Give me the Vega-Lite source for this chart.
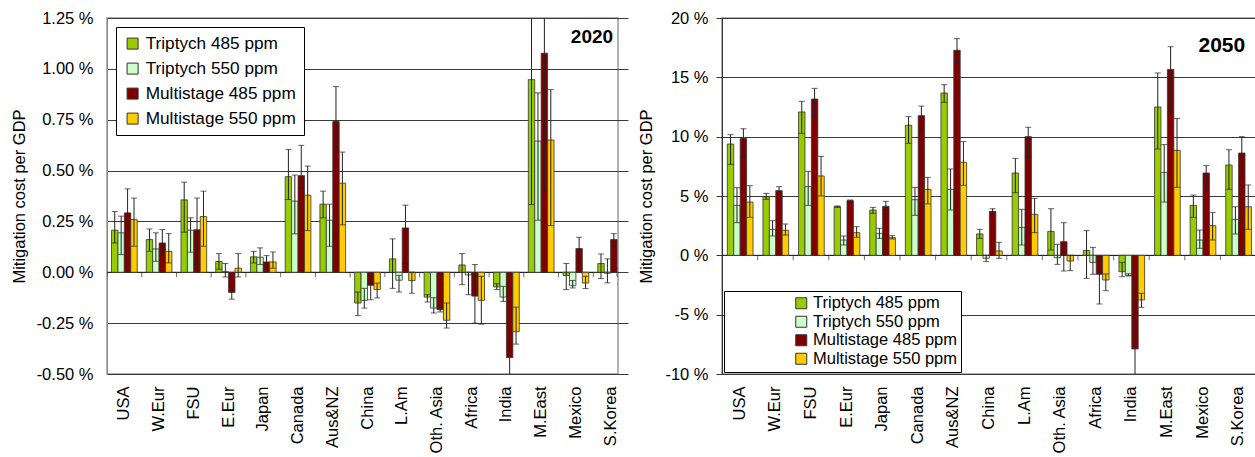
{
"$schema": "https://vega.github.io/schema/vega-lite/v6.json",
"padding": {"left": 10, "top": 9, "right": 0, "bottom": 0},
"spacing": 9,
"config": {
  "font": "Liberation Sans",
  "view": {"stroke": "#999", "strokeWidth": 1.5},
  "axis": {"labelColor": "#000", "titleColor": "#000", "labelFontSize": 16.5, "titleFontSize": 16.5, "titleFontWeight": "normal", "gridColor": "#3a3a3a", "gridWidth": 1}
},
"resolve": {"scale": {"color": "independent"}, "legend": {"color": "independent"}},
"datasets": {
  "regions": [{"region":"USA"},{"region":"W.Eur"},{"region":"FSU"},{"region":"E.Eur"},{"region":"Japan"},{"region":"Canada"},{"region":"Aus&NZ"},{"region":"China"},{"region":"L.Am"},{"region":"Oth. Asia"},{"region":"Africa"},{"region":"India"},{"region":"M.East"},{"region":"Mexico"},{"region":"S.Korea"}],
  "d2020": [
    {"region":"USA","s":"Triptych 485 ppm","value":0.207,"low":0.144,"high":0.299},
    {"region":"USA","s":"Triptych 550 ppm","value":0.194,"low":0.087,"high":0.276},
    {"region":"USA","s":"Multistage 485 ppm","value":0.292,"low":0.218,"high":0.41},
    {"region":"USA","s":"Multistage 550 ppm","value":0.259,"low":0.128,"high":0.365},
    {"region":"W.Eur","s":"Triptych 485 ppm","value":0.161,"low":0.103,"high":0.213},
    {"region":"W.Eur","s":"Triptych 550 ppm","value":0.115,"low":0.054,"high":0.194},
    {"region":"W.Eur","s":"Multistage 485 ppm","value":0.144,"low":0.082,"high":0.21},
    {"region":"W.Eur","s":"Multistage 550 ppm","value":0.103,"low":0.046,"high":0.19},
    {"region":"FSU","s":"Triptych 485 ppm","value":0.356,"low":0.197,"high":0.443},
    {"region":"FSU","s":"Triptych 550 ppm","value":0.207,"low":0.099,"high":0.268},
    {"region":"FSU","s":"Multistage 485 ppm","value":0.209,"low":0.038,"high":0.365},
    {"region":"FSU","s":"Multistage 550 ppm","value":0.274,"low":0.128,"high":0.399},
    {"region":"E.Eur","s":"Triptych 485 ppm","value":0.053,"low":0.015,"high":0.092},
    {"region":"E.Eur","s":"Triptych 550 ppm","value":0.003,"low":-0.023,"high":0.043},
    {"region":"E.Eur","s":"Multistage 485 ppm","value":-0.099,"low":-0.132,"high":-0.065},
    {"region":"E.Eur","s":"Multistage 550 ppm","value":0.02,"low":-0.023,"high":0.092},
    {"region":"Japan","s":"Triptych 485 ppm","value":0.076,"low":0.046,"high":0.103},
    {"region":"Japan","s":"Triptych 550 ppm","value":0.074,"low":0.038,"high":0.12},
    {"region":"Japan","s":"Multistage 485 ppm","value":0.051,"low":0.013,"high":0.082},
    {"region":"Japan","s":"Multistage 550 ppm","value":0.051,"low":0.02,"high":0.1},
    {"region":"Canada","s":"Triptych 485 ppm","value":0.47,"low":0.358,"high":0.604},
    {"region":"Canada","s":"Triptych 550 ppm","value":0.35,"low":0.189,"high":0.478},
    {"region":"Canada","s":"Multistage 485 ppm","value":0.475,"low":0.415,"high":0.624},
    {"region":"Canada","s":"Multistage 550 ppm","value":0.379,"low":0.205,"high":0.522},
    {"region":"Aus&NZ","s":"Triptych 485 ppm","value":0.335,"low":0.268,"high":0.399},
    {"region":"Aus&NZ","s":"Triptych 550 ppm","value":0.256,"low":0.128,"high":0.335},
    {"region":"Aus&NZ","s":"Multistage 485 ppm","value":0.741,"low":0.609,"high":0.913},
    {"region":"Aus&NZ","s":"Multistage 550 ppm","value":0.438,"low":0.233,"high":0.591},
    {"region":"China","s":"Triptych 485 ppm","value":-0.151,"low":-0.213,"high":-0.097},
    {"region":"China","s":"Triptych 550 ppm","value":-0.138,"low":-0.176,"high":-0.079},
    {"region":"China","s":"Multistage 485 ppm","value":-0.064,"low":-0.135,"high":-0.016},
    {"region":"China","s":"Multistage 550 ppm","value":-0.085,"low":-0.126,"high":-0.053},
    {"region":"L.Am","s":"Triptych 485 ppm","value":0.066,"low":-0.079,"high":0.164},
    {"region":"L.Am","s":"Triptych 550 ppm","value":-0.039,"low":-0.097,"high":-0.015},
    {"region":"L.Am","s":"Multistage 485 ppm","value":0.218,"low":0.043,"high":0.33},
    {"region":"L.Am","s":"Multistage 550 ppm","value":-0.041,"low":-0.103,"high":0.0},
    {"region":"Oth. Asia","s":"Triptych 485 ppm","value":-0.122,"low":-0.146,"high":-0.11},
    {"region":"Oth. Asia","s":"Triptych 550 ppm","value":-0.176,"low":-0.2,"high":-0.125},
    {"region":"Oth. Asia","s":"Multistage 485 ppm","value":-0.184,"low":-0.195,"high":-0.167},
    {"region":"Oth. Asia","s":"Multistage 550 ppm","value":-0.236,"low":-0.274,"high":-0.151},
    {"region":"Africa","s":"Triptych 485 ppm","value":0.036,"low":-0.061,"high":0.092},
    {"region":"Africa","s":"Triptych 550 ppm","value":-0.013,"low":-0.11,"high":0.0},
    {"region":"Africa","s":"Multistage 485 ppm","value":-0.117,"low":-0.25,"high":0.038},
    {"region":"Africa","s":"Multistage 550 ppm","value":-0.138,"low":-0.255,"high":-0.02},
    {"region":"India","s":"Triptych 485 ppm","value":-0.072,"low":-0.085,"high":-0.056},
    {"region":"India","s":"Triptych 550 ppm","value":-0.122,"low":-0.143,"high":-0.069},
    {"region":"India","s":"Multistage 485 ppm","value":-0.419,"low":-0.56,"high":-0.348},
    {"region":"India","s":"Multistage 550 ppm","value":-0.292,"low":-0.353,"high":-0.171},
    {"region":"M.East","s":"Triptych 485 ppm","value":0.947,"low":0.333,"high":1.56},
    {"region":"M.East","s":"Triptych 550 ppm","value":0.645,"low":0.256,"high":0.882},
    {"region":"M.East","s":"Multistage 485 ppm","value":1.077,"low":0.396,"high":1.76},
    {"region":"M.East","s":"Multistage 550 ppm","value":0.65,"low":0.23,"high":0.898},
    {"region":"Mexico","s":"Triptych 485 ppm","value":-0.016,"low":-0.085,"high":0.043},
    {"region":"Mexico","s":"Triptych 550 ppm","value":-0.066,"low":-0.077,"high":-0.04},
    {"region":"Mexico","s":"Multistage 485 ppm","value":0.117,"low":0.026,"high":0.172},
    {"region":"Mexico","s":"Multistage 550 ppm","value":-0.053,"low":-0.08,"high":-0.02},
    {"region":"S.Korea","s":"Triptych 485 ppm","value":0.043,"low":-0.031,"high":0.09},
    {"region":"S.Korea","s":"Triptych 550 ppm","value":-0.005,"low":-0.052,"high":0.066},
    {"region":"S.Korea","s":"Multistage 485 ppm","value":0.161,"low":0.128,"high":0.19},
    {"region":"S.Korea","s":"Multistage 550 ppm","value":-0.02,"low":-0.06,"high":0.02}
  ],
  "d2050": [
    {"region":"USA","s":"Triptych 485 ppm","value":9.38,"low":7.67,"high":10.17},
    {"region":"USA","s":"Triptych 550 ppm","value":4.21,"low":2.75,"high":5.7},
    {"region":"USA","s":"Multistage 485 ppm","value":9.86,"low":8.31,"high":10.67},
    {"region":"USA","s":"Multistage 550 ppm","value":4.49,"low":3.2,"high":5.87},
    {"region":"W.Eur","s":"Triptych 485 ppm","value":4.94,"low":4.72,"high":5.22},
    {"region":"W.Eur","s":"Triptych 550 ppm","value":2.19,"low":1.63,"high":2.92},
    {"region":"W.Eur","s":"Multistage 485 ppm","value":5.45,"low":5.22,"high":5.79},
    {"region":"W.Eur","s":"Multistage 550 ppm","value":2.11,"low":1.71,"high":2.64},
    {"region":"FSU","s":"Triptych 485 ppm","value":12.08,"low":10.28,"high":12.98},
    {"region":"FSU","s":"Triptych 550 ppm","value":5.79,"low":4.21,"high":7.08},
    {"region":"FSU","s":"Multistage 485 ppm","value":13.17,"low":11.69,"high":14.07},
    {"region":"FSU","s":"Multistage 550 ppm","value":6.69,"low":5.0,"high":8.34},
    {"region":"E.Eur","s":"Triptych 485 ppm","value":4.1,"low":4.04,"high":4.16},
    {"region":"E.Eur","s":"Triptych 550 ppm","value":1.29,"low":0.87,"high":1.63},
    {"region":"E.Eur","s":"Multistage 485 ppm","value":4.61,"low":4.52,"high":4.66},
    {"region":"E.Eur","s":"Multistage 550 ppm","value":1.91,"low":1.52,"high":2.42},
    {"region":"Japan","s":"Triptych 485 ppm","value":3.82,"low":3.54,"high":4.04},
    {"region":"Japan","s":"Triptych 550 ppm","value":1.85,"low":1.43,"high":2.28},
    {"region":"Japan","s":"Multistage 485 ppm","value":4.13,"low":3.82,"high":4.55},
    {"region":"Japan","s":"Multistage 550 ppm","value":1.49,"low":1.38,"high":1.66},
    {"region":"Canada","s":"Triptych 485 ppm","value":10.96,"low":9.44,"high":11.69},
    {"region":"Canada","s":"Triptych 550 ppm","value":4.69,"low":3.37,"high":5.73},
    {"region":"Canada","s":"Multistage 485 ppm","value":11.77,"low":10.48,"high":12.58},
    {"region":"Canada","s":"Multistage 550 ppm","value":5.56,"low":4.33,"high":6.57},
    {"region":"Aus&NZ","s":"Triptych 485 ppm","value":13.68,"low":12.89,"high":14.38},
    {"region":"Aus&NZ","s":"Triptych 550 ppm","value":5.56,"low":3.82,"high":7.28},
    {"region":"Aus&NZ","s":"Multistage 485 ppm","value":17.28,"low":16.24,"high":18.26},
    {"region":"Aus&NZ","s":"Multistage 550 ppm","value":7.84,"low":5.9,"high":9.58},
    {"region":"China","s":"Triptych 485 ppm","value":1.8,"low":1.43,"high":2.19},
    {"region":"China","s":"Triptych 550 ppm","value":-0.25,"low":-0.53,"high":0.0},
    {"region":"China","s":"Multistage 485 ppm","value":3.71,"low":3.6,"high":3.93},
    {"region":"China","s":"Multistage 550 ppm","value":0.37,"low":-0.25,"high":1.1},
    {"region":"L.Am","s":"Triptych 485 ppm","value":6.94,"low":5.28,"high":8.17},
    {"region":"L.Am","s":"Triptych 550 ppm","value":2.36,"low":0.87,"high":3.88},
    {"region":"L.Am","s":"Multistage 485 ppm","value":10.0,"low":8.31,"high":10.79},
    {"region":"L.Am","s":"Multistage 550 ppm","value":3.46,"low":1.91,"high":4.8},
    {"region":"Oth. Asia","s":"Triptych 485 ppm","value":2.02,"low":0.45,"high":3.93},
    {"region":"Oth. Asia","s":"Triptych 550 ppm","value":-0.2,"low":-0.76,"high":0.93},
    {"region":"Oth. Asia","s":"Multistage 485 ppm","value":1.15,"low":-1.32,"high":2.75},
    {"region":"Oth. Asia","s":"Multistage 550 ppm","value":-0.48,"low":-1.29,"high":0.0},
    {"region":"Africa","s":"Triptych 485 ppm","value":0.42,"low":-1.94,"high":2.08},
    {"region":"Africa","s":"Triptych 550 ppm","value":-0.59,"low":-1.6,"high":0.67},
    {"region":"Africa","s":"Multistage 485 ppm","value":-1.6,"low":-4.1,"high":-0.1},
    {"region":"Africa","s":"Multistage 550 ppm","value":-2.08,"low":-2.98,"high":-1.57},
    {"region":"India","s":"Triptych 485 ppm","value":-1.38,"low":-1.8,"high":-0.59},
    {"region":"India","s":"Triptych 550 ppm","value":-1.69,"low":-1.74,"high":-1.55},
    {"region":"India","s":"Multistage 485 ppm","value":-7.89,"low":-13.8,"high":-2.02},
    {"region":"India","s":"Multistage 550 ppm","value":-3.76,"low":-4.38,"high":-3.2},
    {"region":"M.East","s":"Triptych 485 ppm","value":12.5,"low":8.96,"high":15.37},
    {"region":"M.East","s":"Triptych 550 ppm","value":6.99,"low":4.49,"high":9.33},
    {"region":"M.East","s":"Multistage 485 ppm","value":15.67,"low":12.05,"high":17.58},
    {"region":"M.East","s":"Multistage 550 ppm","value":8.85,"low":5.73,"high":11.54},
    {"region":"Mexico","s":"Triptych 485 ppm","value":4.21,"low":3.2,"high":5.08},
    {"region":"Mexico","s":"Triptych 550 ppm","value":1.29,"low":0.59,"high":2.13},
    {"region":"Mexico","s":"Multistage 485 ppm","value":6.94,"low":5.56,"high":7.56},
    {"region":"Mexico","s":"Multistage 550 ppm","value":2.5,"low":1.29,"high":3.62},
    {"region":"S.Korea","s":"Triptych 485 ppm","value":7.61,"low":5.56,"high":8.9},
    {"region":"S.Korea","s":"Triptych 550 ppm","value":3.03,"low":1.8,"high":4.1},
    {"region":"S.Korea","s":"Multistage 485 ppm","value":8.62,"low":6.4,"high":10.0},
    {"region":"S.Korea","s":"Multistage 550 ppm","value":4.1,"low":2.19,"high":5.93}
  ]
},
"hconcat": [
{
  "width": 511, "height": 356,
  "data": {"name": "d2020"},
  "layer": [
    {"data": {"values": [{"z": 0}]}, "mark": {"type": "rule", "color": "#222", "strokeWidth": 1},
     "encoding": {"y": {"field": "z", "type": "quantitative", "title": "Mitigation cost per GDP"}}},
    {"mark": {"type": "bar", "stroke": "#333", "strokeWidth": 0.8, "clip": true},
     "encoding": {
      "x": {"field": "region", "type": "nominal", "title": null, "sort": ["USA","W.Eur","FSU","E.Eur","Japan","Canada","Aus&NZ","China","L.Am","Oth. Asia","Africa","India","M.East","Mexico","S.Korea"],
            "scale": {"range": [0, 521], "paddingInner": 0.26, "paddingOuter": 0.13},
            "axis": {"labelAngle": -90, "ticks": false, "domain": false, "labelPadding": 12, "labelFontSize": 16.5}},
      "xOffset": {"field": "s", "type": "nominal", "sort": ["Triptych 485 ppm","Triptych 550 ppm","Multistage 485 ppm","Multistage 550 ppm"]},
      "y": {"field": "value", "type": "quantitative", "title": "Mitigation cost per GDP",
            "scale": {"domain": [-0.5, 1.25], "nice": false, "zero": false},
            "axis": {"values": [-0.5,-0.25,0,0.25,0.5,0.75,1,1.25], "ticks": false, "labelPadding": 14, "domainColor": "#888", "titlePadding": 9,
                     "labelExpr": "replace(format(datum.value, '.2f'), '\u2212', '-') + ' %'"}},
      "color": {"field": "s", "type": "nominal",
                "scale": {"domain": ["Triptych 485 ppm","Triptych 550 ppm","Multistage 485 ppm","Multistage 550 ppm"], "range": ["#99CC00","#CCFFCC","#800000","#FFCC00"]},
                "legend": {"title": null, "orient": "top-left", "offset": 9, "padding": 8, "strokeColor": "#000", "fillColor": "#fff",
                           "symbolType": "square", "symbolSize": 121, "symbolStrokeColor": "#333", "symbolStrokeWidth": 1,
                           "labelFontSize": 17.2, "labelColor": "#000", "labelOffset": 4.5, "rowPadding": 7}}
     }},
    {"mark": {"type": "rule", "color": "#222", "strokeWidth": 1, "clip": true},
     "encoding": {
      "x": {"field": "region", "type": "nominal", "title": null, "sort": ["USA","W.Eur","FSU","E.Eur","Japan","Canada","Aus&NZ","China","L.Am","Oth. Asia","Africa","India","M.East","Mexico","S.Korea"]},
      "xOffset": {"field": "s", "type": "nominal", "sort": ["Triptych 485 ppm","Triptych 550 ppm","Multistage 485 ppm","Multistage 550 ppm"]},
      "y": {"field": "low", "type": "quantitative", "title": "Mitigation cost per GDP"},
      "y2": {"field": "high"}
     }},
    {"mark": {"type": "tick", "color": "#222", "thickness": 1, "size": 6, "clip": true},
     "encoding": {
      "x": {"field": "region", "type": "nominal", "title": null, "sort": ["USA","W.Eur","FSU","E.Eur","Japan","Canada","Aus&NZ","China","L.Am","Oth. Asia","Africa","India","M.East","Mexico","S.Korea"]},
      "xOffset": {"field": "s", "type": "nominal", "sort": ["Triptych 485 ppm","Triptych 550 ppm","Multistage 485 ppm","Multistage 550 ppm"]},
      "y": {"field": "low", "type": "quantitative", "title": "Mitigation cost per GDP"}
     }},
    {"mark": {"type": "tick", "color": "#222", "thickness": 1, "size": 6, "clip": true},
     "encoding": {
      "x": {"field": "region", "type": "nominal", "title": null, "sort": ["USA","W.Eur","FSU","E.Eur","Japan","Canada","Aus&NZ","China","L.Am","Oth. Asia","Africa","India","M.East","Mexico","S.Korea"]},
      "xOffset": {"field": "s", "type": "nominal", "sort": ["Triptych 485 ppm","Triptych 550 ppm","Multistage 485 ppm","Multistage 550 ppm"]},
      "y": {"field": "high", "type": "quantitative", "title": "Mitigation cost per GDP"}
     }},
    {"data": {"name": "regions"},
     "mark": {"type": "tick", "orient": "vertical", "color": "#333", "thickness": 1, "size": 5, "yOffset": 2.5, "clip": true},
     "encoding": {
      "x": {"field": "region", "type": "nominal", "title": null, "bandPosition": -0.1757, "sort": ["USA","W.Eur","FSU","E.Eur","Japan","Canada","Aus&NZ","China","L.Am","Oth. Asia","Africa","India","M.East","Mexico","S.Korea"]},
      "y": {"datum": 0, "type": "quantitative", "title": "Mitigation cost per GDP"}
     }},
    {"data": {"values": [{"year": "2020"}]},
     "mark": {"type": "text", "align": "right", "baseline": "alphabetic", "fontSize": 19, "fontWeight": "bold", "color": "#000", "dx": 2.5},
     "encoding": {
      "x": {"datum": "S.Korea", "type": "nominal", "title": null},
      "y": {"datum": 1.127, "type": "quantitative", "title": "Mitigation cost per GDP"},
      "text": {"field": "year"}
     }}
  ]
},
{
  "width": 534, "height": 356,
  "data": {"name": "d2050"},
  "layer": [
    {"data": {"values": [{"z": 0}]}, "mark": {"type": "rule", "color": "#222", "strokeWidth": 1},
     "encoding": {"y": {"field": "z", "type": "quantitative", "title": "Mitigation cost per GDP"}}},
    {"mark": {"type": "bar", "stroke": "#333", "strokeWidth": 0.8, "clip": true},
     "encoding": {
      "x": {"field": "region", "type": "nominal", "title": null, "sort": ["USA","W.Eur","FSU","E.Eur","Japan","Canada","Aus&NZ","China","L.Am","Oth. Asia","Africa","India","M.East","Mexico","S.Korea"],
            "scale": {"paddingInner": 0.3, "paddingOuter": 0.15},
            "axis": {"labelAngle": -90, "ticks": false, "domain": false, "labelPadding": 12, "labelFontSize": 16.5}},
      "xOffset": {"field": "s", "type": "nominal", "sort": ["Triptych 485 ppm","Triptych 550 ppm","Multistage 485 ppm","Multistage 550 ppm"]},
      "y": {"field": "value", "type": "quantitative", "title": "Mitigation cost per GDP",
            "scale": {"domain": [-10, 20], "nice": false, "zero": false},
            "axis": {"values": [-10,-5,0,5,10,15,20], "tickSize": 6, "tickColor": "#333", "labelPadding": 8, "domainColor": "#333", "titlePadding": 10,
                     "labelExpr": "replace(format(datum.value, 'd'), '\u2212', '-') + ' %'"}},
      "color": {"field": "s", "type": "nominal",
                "scale": {"domain": ["Triptych 485 ppm","Triptych 550 ppm","Multistage 485 ppm","Multistage 550 ppm"], "range": ["#99CC00","#CCFFCC","#800000","#FFCC00"]},
                "legend": {"title": "\u00a0", "titleOrient": "left", "titlePadding": 65, "titleFontSize": 2,
                           "orient": "bottom-left", "offset": 2, "padding": 4, "strokeColor": "#000", "fillColor": "#fff",
                           "symbolType": "square", "symbolSize": 121, "symbolStrokeColor": "#333", "symbolStrokeWidth": 1,
                           "labelFontSize": 16.5, "labelColor": "#000", "labelOffset": 3.5, "rowPadding": 1.5,
                           "labelExpr": "datum.label + '\u00a0\u00a0\u00a0\u00a0\u00a0\u00a0\u00a0\u00a0\u00a0\u00a0\u00a0\u00a0\u00a0\u00a0\u00a0'"}}
     }},
    {"mark": {"type": "rule", "color": "#222", "strokeWidth": 1, "clip": true},
     "encoding": {
      "x": {"field": "region", "type": "nominal", "title": null, "sort": ["USA","W.Eur","FSU","E.Eur","Japan","Canada","Aus&NZ","China","L.Am","Oth. Asia","Africa","India","M.East","Mexico","S.Korea"]},
      "xOffset": {"field": "s", "type": "nominal", "sort": ["Triptych 485 ppm","Triptych 550 ppm","Multistage 485 ppm","Multistage 550 ppm"]},
      "y": {"field": "low", "type": "quantitative", "title": "Mitigation cost per GDP"},
      "y2": {"field": "high"}
     }},
    {"mark": {"type": "tick", "color": "#222", "thickness": 1, "size": 6, "clip": true},
     "encoding": {
      "x": {"field": "region", "type": "nominal", "title": null, "sort": ["USA","W.Eur","FSU","E.Eur","Japan","Canada","Aus&NZ","China","L.Am","Oth. Asia","Africa","India","M.East","Mexico","S.Korea"]},
      "xOffset": {"field": "s", "type": "nominal", "sort": ["Triptych 485 ppm","Triptych 550 ppm","Multistage 485 ppm","Multistage 550 ppm"]},
      "y": {"field": "low", "type": "quantitative", "title": "Mitigation cost per GDP"}
     }},
    {"mark": {"type": "tick", "color": "#222", "thickness": 1, "size": 6, "clip": true},
     "encoding": {
      "x": {"field": "region", "type": "nominal", "title": null, "sort": ["USA","W.Eur","FSU","E.Eur","Japan","Canada","Aus&NZ","China","L.Am","Oth. Asia","Africa","India","M.East","Mexico","S.Korea"]},
      "xOffset": {"field": "s", "type": "nominal", "sort": ["Triptych 485 ppm","Triptych 550 ppm","Multistage 485 ppm","Multistage 550 ppm"]},
      "y": {"field": "high", "type": "quantitative", "title": "Mitigation cost per GDP"}
     }},
    {"data": {"name": "regions"},
     "mark": {"type": "tick", "orient": "vertical", "color": "#333", "thickness": 1, "size": 5, "yOffset": 2.5, "clip": true},
     "encoding": {
      "x": {"field": "region", "type": "nominal", "title": null, "bandPosition": -0.2143, "sort": ["USA","W.Eur","FSU","E.Eur","Japan","Canada","Aus&NZ","China","L.Am","Oth. Asia","Africa","India","M.East","Mexico","S.Korea"]},
      "y": {"datum": 0, "type": "quantitative", "title": "Mitigation cost per GDP"}
     }},
    {"data": {"values": [{"year": "2050"}]},
     "mark": {"type": "text", "align": "right", "baseline": "alphabetic", "fontSize": 21, "fontWeight": "bold", "color": "#000", "dx": 7},
     "encoding": {
      "x": {"datum": "S.Korea", "type": "nominal", "title": null},
      "y": {"datum": 17.14, "type": "quantitative", "title": "Mitigation cost per GDP"},
      "text": {"field": "year"}
     }}
  ]
}
]
}
